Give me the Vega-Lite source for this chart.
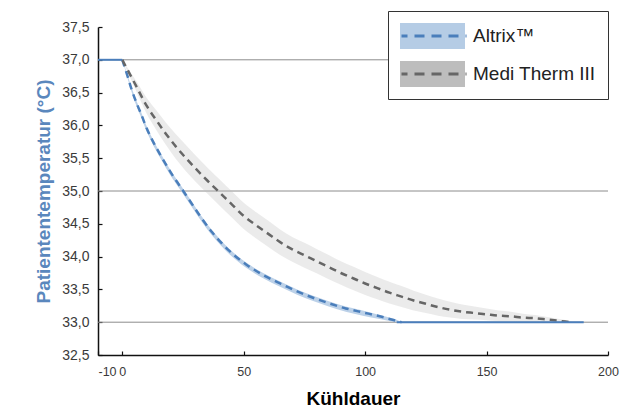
{
  "$schema": "https://vega.github.io/schema/vega-lite/v6.json",
  "width": 510,
  "height": 328,
  "autosize": {"type": "none"},
  "padding": {"left": 98, "top": 27, "right": 13, "bottom": 55},
  "background": "white",
  "config": {
    "view": {"stroke": null},
    "font": "Liberation Sans",
    "axis": {
      "grid": false,
      "domainColor": "#111111",
      "domainWidth": 1.5,
      "tickColor": "#111111",
      "tickWidth": 1.2,
      "tickSize": -4,
      "labelOverlap": false,
      "labelFont": "Liberation Sans",
      "labelFontSize": 14,
      "labelColor": "#3a3a3a",
      "titleFont": "Liberation Sans",
      "titleFontWeight": "bold",
      "titleFontSize": 19
    }
  },
  "datasets": {
    "grid": [{"T": 33}, {"T": 35}, {"T": 37}],
    "solid": [
      {"t": -10, "T": 37, "seg": "a"},
      {"t": 0, "T": 37, "seg": "a"},
      {"t": 113, "T": 33, "seg": "b"},
      {"t": 190, "T": 33, "seg": "b"}
    ],
    "curves": [
      {"series": "Altrix™", "curve": "Altrix™", "t": 0, "mean": 37.0, "lo": 37.0, "hi": 37.0},
      {"series": "Altrix™", "curve": "Altrix™", "t": 2, "mean": 36.77, "lo": 36.74, "hi": 36.785},
      {"series": "Altrix™", "curve": "Altrix™", "t": 4, "mean": 36.53, "lo": 36.49, "hi": 36.56},
      {"series": "Altrix™", "curve": "Altrix™", "t": 6, "mean": 36.33, "lo": 36.28, "hi": 36.36},
      {"series": "Altrix™", "curve": "Altrix™", "t": 8, "mean": 36.15, "lo": 36.10, "hi": 36.18},
      {"series": "Altrix™", "curve": "Altrix™", "t": 10, "mean": 35.96, "lo": 35.91, "hi": 35.99},
      {"series": "Altrix™", "curve": "Altrix™", "t": 13, "mean": 35.73, "lo": 35.68, "hi": 35.76},
      {"series": "Altrix™", "curve": "Altrix™", "t": 16, "mean": 35.53, "lo": 35.48, "hi": 35.56},
      {"series": "Altrix™", "curve": "Altrix™", "t": 20, "mean": 35.28, "lo": 35.23, "hi": 35.31},
      {"series": "Altrix™", "curve": "Altrix™", "t": 24, "mean": 35.06, "lo": 35.01, "hi": 35.09},
      {"series": "Altrix™", "curve": "Altrix™", "t": 28, "mean": 34.84, "lo": 34.79, "hi": 34.87},
      {"series": "Altrix™", "curve": "Altrix™", "t": 32, "mean": 34.62, "lo": 34.57, "hi": 34.65},
      {"series": "Altrix™", "curve": "Altrix™", "t": 37, "mean": 34.37, "lo": 34.32, "hi": 34.40},
      {"series": "Altrix™", "curve": "Altrix™", "t": 44, "mean": 34.09, "lo": 34.04, "hi": 34.12},
      {"series": "Altrix™", "curve": "Altrix™", "t": 51, "mean": 33.88, "lo": 33.83, "hi": 33.91},
      {"series": "Altrix™", "curve": "Altrix™", "t": 58, "mean": 33.72, "lo": 33.67, "hi": 33.75},
      {"series": "Altrix™", "curve": "Altrix™", "t": 65, "mean": 33.59, "lo": 33.54, "hi": 33.62},
      {"series": "Altrix™", "curve": "Altrix™", "t": 72, "mean": 33.47, "lo": 33.42, "hi": 33.50},
      {"series": "Altrix™", "curve": "Altrix™", "t": 78, "mean": 33.38, "lo": 33.33, "hi": 33.41},
      {"series": "Altrix™", "curve": "Altrix™", "t": 85, "mean": 33.29, "lo": 33.24, "hi": 33.32},
      {"series": "Altrix™", "curve": "Altrix™", "t": 92, "mean": 33.21, "lo": 33.16, "hi": 33.24},
      {"series": "Altrix™", "curve": "Altrix™", "t": 99, "mean": 33.15, "lo": 33.10, "hi": 33.18},
      {"series": "Altrix™", "curve": "Altrix™", "t": 106, "mean": 33.09, "lo": 33.05, "hi": 33.11},
      {"series": "Altrix™", "curve": "Altrix™", "t": 110, "mean": 33.05, "lo": 33.02, "hi": 33.07},
      {"series": "Altrix™", "curve": "Altrix™", "t": 114, "mean": 33.01, "lo": 33.0, "hi": 33.02},
      {"series": "Altrix™", "curve": "Altrix™", "t": 115, "mean": 33.0, "lo": 33.0, "hi": 33.0},
      {"series": "Medi Therm III", "curve": "Medi Therm III", "t": 0, "mean": 37.0, "lo": 37.0, "hi": 37.0},
      {"series": "Medi Therm III", "curve": "Medi Therm III", "t": 3, "mean": 36.79, "lo": 36.75, "hi": 36.83},
      {"series": "Medi Therm III", "curve": "Medi Therm III", "t": 6, "mean": 36.58, "lo": 36.50, "hi": 36.66},
      {"series": "Medi Therm III", "curve": "Medi Therm III", "t": 10, "mean": 36.30, "lo": 36.18, "hi": 36.42},
      {"series": "Medi Therm III", "curve": "Medi Therm III", "t": 14, "mean": 36.08, "lo": 35.93, "hi": 36.23},
      {"series": "Medi Therm III", "curve": "Medi Therm III", "t": 18, "mean": 35.87, "lo": 35.70, "hi": 36.04},
      {"series": "Medi Therm III", "curve": "Medi Therm III", "t": 22, "mean": 35.68, "lo": 35.49, "hi": 35.87},
      {"series": "Medi Therm III", "curve": "Medi Therm III", "t": 26, "mean": 35.51, "lo": 35.31, "hi": 35.71},
      {"series": "Medi Therm III", "curve": "Medi Therm III", "t": 30, "mean": 35.35, "lo": 35.15, "hi": 35.55},
      {"series": "Medi Therm III", "curve": "Medi Therm III", "t": 35, "mean": 35.16, "lo": 34.96, "hi": 35.36},
      {"series": "Medi Therm III", "curve": "Medi Therm III", "t": 40, "mean": 34.98, "lo": 34.78, "hi": 35.18},
      {"series": "Medi Therm III", "curve": "Medi Therm III", "t": 45, "mean": 34.80, "lo": 34.60, "hi": 35.00},
      {"series": "Medi Therm III", "curve": "Medi Therm III", "t": 50, "mean": 34.62, "lo": 34.42, "hi": 34.82},
      {"series": "Medi Therm III", "curve": "Medi Therm III", "t": 55, "mean": 34.48, "lo": 34.28, "hi": 34.68},
      {"series": "Medi Therm III", "curve": "Medi Therm III", "t": 60, "mean": 34.35, "lo": 34.15, "hi": 34.55},
      {"series": "Medi Therm III", "curve": "Medi Therm III", "t": 65, "mean": 34.22, "lo": 34.025, "hi": 34.415},
      {"series": "Medi Therm III", "curve": "Medi Therm III", "t": 70, "mean": 34.11, "lo": 33.92, "hi": 34.30},
      {"series": "Medi Therm III", "curve": "Medi Therm III", "t": 75, "mean": 34.02, "lo": 33.83, "hi": 34.21},
      {"series": "Medi Therm III", "curve": "Medi Therm III", "t": 80, "mean": 33.93, "lo": 33.745, "hi": 34.115},
      {"series": "Medi Therm III", "curve": "Medi Therm III", "t": 85, "mean": 33.84, "lo": 33.655, "hi": 34.025},
      {"series": "Medi Therm III", "curve": "Medi Therm III", "t": 90, "mean": 33.75, "lo": 33.57, "hi": 33.93},
      {"series": "Medi Therm III", "curve": "Medi Therm III", "t": 95, "mean": 33.67, "lo": 33.49, "hi": 33.85},
      {"series": "Medi Therm III", "curve": "Medi Therm III", "t": 100, "mean": 33.59, "lo": 33.415, "hi": 33.765},
      {"series": "Medi Therm III", "curve": "Medi Therm III", "t": 105, "mean": 33.52, "lo": 33.35, "hi": 33.69},
      {"series": "Medi Therm III", "curve": "Medi Therm III", "t": 110, "mean": 33.45, "lo": 33.285, "hi": 33.615},
      {"series": "Medi Therm III", "curve": "Medi Therm III", "t": 115, "mean": 33.39, "lo": 33.23, "hi": 33.55},
      {"series": "Medi Therm III", "curve": "Medi Therm III", "t": 120, "mean": 33.33, "lo": 33.18, "hi": 33.48},
      {"series": "Medi Therm III", "curve": "Medi Therm III", "t": 125, "mean": 33.28, "lo": 33.14, "hi": 33.42},
      {"series": "Medi Therm III", "curve": "Medi Therm III", "t": 130, "mean": 33.23, "lo": 33.10, "hi": 33.36},
      {"series": "Medi Therm III", "curve": "Medi Therm III", "t": 135, "mean": 33.19, "lo": 33.07, "hi": 33.31},
      {"series": "Medi Therm III", "curve": "Medi Therm III", "t": 140, "mean": 33.16, "lo": 33.05, "hi": 33.27},
      {"series": "Medi Therm III", "curve": "Medi Therm III", "t": 145, "mean": 33.14, "lo": 33.04, "hi": 33.24},
      {"series": "Medi Therm III", "curve": "Medi Therm III", "t": 150, "mean": 33.12, "lo": 33.03, "hi": 33.21},
      {"series": "Medi Therm III", "curve": "Medi Therm III", "t": 155, "mean": 33.10, "lo": 33.02, "hi": 33.18},
      {"series": "Medi Therm III", "curve": "Medi Therm III", "t": 160, "mean": 33.09, "lo": 33.02, "hi": 33.16},
      {"series": "Medi Therm III", "curve": "Medi Therm III", "t": 165, "mean": 33.07, "lo": 33.01, "hi": 33.13},
      {"series": "Medi Therm III", "curve": "Medi Therm III", "t": 170, "mean": 33.06, "lo": 33.01, "hi": 33.11},
      {"series": "Medi Therm III", "curve": "Medi Therm III", "t": 175, "mean": 33.04, "lo": 33.0, "hi": 33.08},
      {"series": "Medi Therm III", "curve": "Medi Therm III", "t": 180, "mean": 33.02, "lo": 33.0, "hi": 33.05},
      {"series": "Medi Therm III", "curve": "Medi Therm III", "t": 185, "mean": 33.0, "lo": 33.0, "hi": 33.015}
    ]
  },
  "layer": [
    {
      "data": {"name": "grid"},
      "mark": {"type": "rule", "color": "#8c8c8c", "strokeWidth": 1},
      "encoding": {
        "y": {
          "field": "T", "type": "quantitative",
          "scale": {"domain": [32.5, 37.5], "nice": false, "zero": false},
          "title": "Patiententemperatur (°C)"
        }
      }
    },
    {
      "data": {"name": "curves"},
      "mark": {"type": "area", "interpolate": "monotone"},
      "encoding": {
        "x": {
          "field": "t", "type": "quantitative",
          "scale": {"domain": [-10, 200], "nice": false, "zero": false},
          "axis": {
            "title": "Kühldauer",
            "titleColor": "#000000",
            "titlePadding": 12,
            "values": [-10, 0, 50, 100, 150, 200],
            "tickCount": 20,
            "labelExpr": "datum.value < 0 ? '-' + abs(datum.value) : '' + datum.value",
            "labelFontSize": 12.5,
            "labelPadding": 14,
            "labelOverlap": false,
            "labelAlign": {"condition": {"test": "datum.value == -10", "value": "left"}, "value": "center"}
          }
        },
        "y": {
          "field": "lo", "type": "quantitative",
          "scale": {"domain": [32.5, 37.5], "nice": false, "zero": false},
          "axis": {
            "title": "Patiententemperatur (°C)",
            "titleColor": "#5a87bd",
            "titlePadding": 8,
            "values": [32.5, 33, 33.5, 34, 34.5, 35, 35.5, 36, 36.5, 37, 37.5],
            "tickCount": 20,
            "format": ".1f",
            "labelExpr": "replace(datum.label, '.', ',')",
            "labelOverlap": false,
            "labelPadding": 13
          }
        },
        "y2": {"field": "hi"},
        "fill": {
          "field": "series", "type": "nominal",
          "scale": {"domain": ["Altrix™", "Medi Therm III"], "range": ["#b5cce5", "#bdbdbd"]},
          "legend": {
            "orient": "none", "legendX": 290, "legendY": -16, "title": null,
            "symbolType": "M-1,-0.4H1V0.4H-1Z", "symbolSize": 4225,
            "symbolStrokeWidth": 0, "symbolOpacity": 1, "clipHeight": 26,
            "rowPadding": 12, "labelFontSize": 19, "labelFont": "Liberation Sans",
            "labelColor": "#222222", "labelOffset": 8, "padding": 12,
            "strokeColor": "#333333", "fillColor": "white", "zindex": 1
          }
        },
        "fillOpacity": {
          "field": "series", "type": "nominal",
          "scale": {"domain": ["Altrix™", "Medi Therm III"], "range": [0.9, 0.3]},
          "legend": null
        }
      }
    },
    {
      "data": {"name": "curves"},
      "mark": {"type": "line", "interpolate": "monotone", "strokeWidth": 2.5, "strokeDash": [7, 5]},
      "encoding": {
        "x": {"field": "t", "type": "quantitative"},
        "y": {"field": "mean", "type": "quantitative", "title": "Patiententemperatur (°C)"},
        "stroke": {
          "field": "curve", "type": "nominal",
          "scale": {"range": ["#4a7ebb", "#666666"]},
          "legend": {
            "orient": "none", "legendX": 290, "legendY": -16, "title": null,
            "symbolType": "M-1,0H1", "symbolSize": 4225,
            "symbolStrokeWidth": 3, "symbolDash": [10, 7], "symbolDashOffset": 4,
            "symbolFillColor": "transparent", "symbolOpacity": 1, "clipHeight": 26,
            "rowPadding": 12, "labelFontSize": 19, "labelExpr": "''",
            "labelOffset": 8, "padding": 12,
            "strokeColor": null, "fillColor": null, "zindex": 2
          }
        },
        "order": {"field": "t", "type": "quantitative"}
      }
    },
    {
      "data": {"name": "solid"},
      "mark": {"type": "line", "color": "#4a7ebb", "strokeWidth": 2},
      "encoding": {
        "x": {"field": "t", "type": "quantitative"},
        "y": {"field": "T", "type": "quantitative", "title": "Patiententemperatur (°C)"},
        "detail": {"field": "seg", "type": "nominal"}
      }
    }
  ]
}
